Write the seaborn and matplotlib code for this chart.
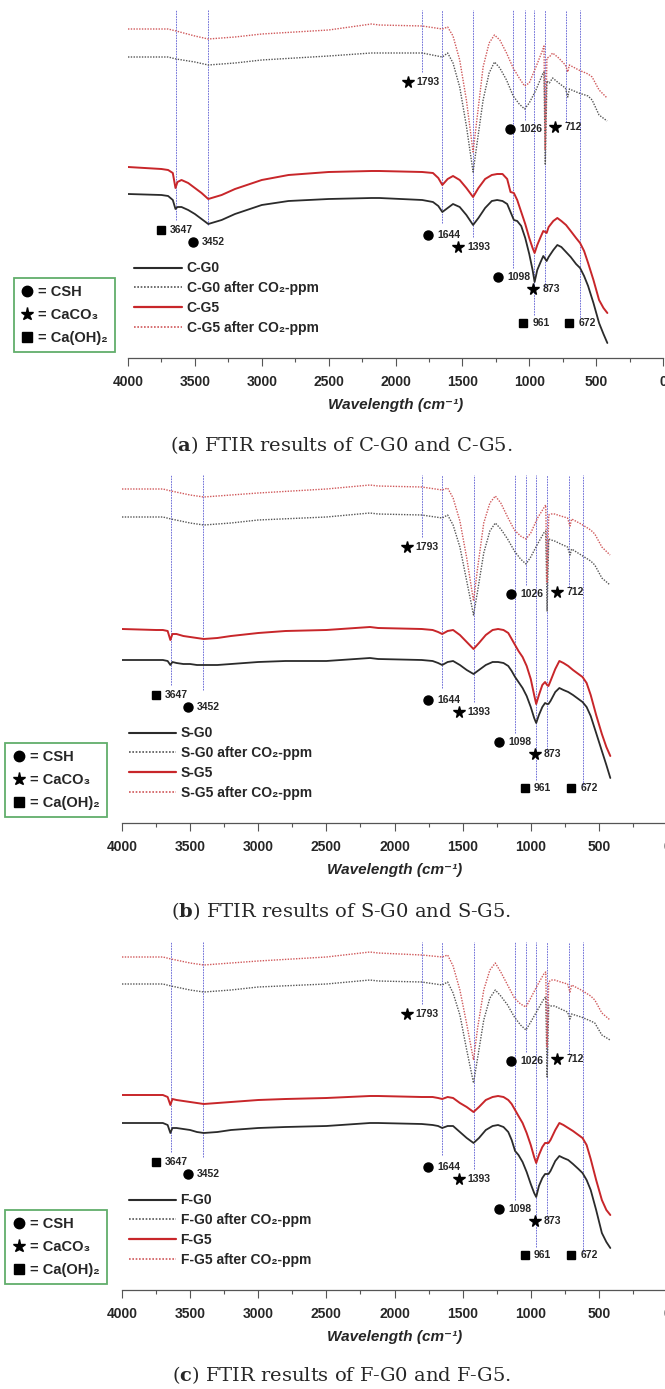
import matplotlib
matplotlib.use('Agg')
from matplotlib import pyplot as plt
from matplotlib.lines import Line2D
from matplotlib.ticker import MultipleLocator
import pandas as pd
import seaborn as sns

# ---- data: wavenumber grids (cm-1) and transmittance (a.u.) ----
WN_DOT = [4000, 3700, 3640, 3500, 3400, 3200, 3000, 2500, 2180, 2120,
          1800, 1650, 1610, 1570, 1520, 1470, 1420, 1390, 1345, 1300,
          1260, 1220, 1170, 1120, 1075, 1035, 1000, 950, 900, 890,
          880, 868, 850, 825, 780, 730, 712, 700, 630, 560,
          530, 478, 418]
WN_SOLID = [4000, 3750, 3700, 3665, 3645, 3630, 3600, 3550, 3500, 3450,
            3400, 3300, 3200, 3000, 2800, 2500, 2180, 2120, 1800, 1720,
            1680, 1650, 1610, 1570, 1520, 1470, 1420, 1380, 1330, 1280,
            1240, 1200, 1165, 1140, 1115, 1090, 1060, 1030, 1000, 975,
            960, 940, 915, 895, 880, 870, 855, 820, 790, 760,
            725, 690, 650, 620, 590, 560, 520, 478, 445, 416]

# panel (a) C-G0 / C-G5
C_G5_CO2 = [329, 329, 327, 322, 319, 321, 324, 328, 334, 333,
            332, 329, 331, 322, 298, 258, 206, 240, 291, 315,
            323, 318, 305, 290, 280, 272, 275, 291, 308, 312,
            208, 300, 301, 305, 300, 293, 286, 293, 288, 284,
            281, 268, 260]
C_G0_CO2 = [301, 301, 299, 296, 293, 295, 298, 302, 305, 305,
            305, 301, 305, 295, 271, 232, 186, 215, 258, 285,
            296, 290, 278, 262, 254, 249, 255, 268, 284, 286,
            193, 277, 275, 280, 275, 270, 261, 269, 265, 262,
            258, 243, 237]
C_G5 = [191, 189, 188, 185, 170, 176, 178, 175, 170, 165,
        159, 163, 169, 178, 183, 186, 187, 187, 186, 185,
        180, 173, 179, 182, 178, 170, 161, 170, 179, 183,
        184, 184, 179, 166, 165, 158, 146, 134, 120, 110,
        105, 113, 121, 127, 126, 125, 131, 137, 140, 137,
        133, 127, 120, 115, 107, 95, 78, 58, 50, 45]
C_G0 = [164, 163, 162, 158, 149, 151, 151, 148, 144, 139,
        134, 138, 144, 153, 157, 159, 160, 160, 158, 156,
        152, 146, 150, 154, 151, 143, 133, 140, 150, 157,
        158, 157, 154, 146, 138, 137, 132, 120, 104, 88,
        76, 88, 96, 102, 99, 97, 101, 108, 113, 111,
        106, 101, 94, 90, 82, 72, 55, 35, 24, 15]

# panel (b) S-G0 / S-G5
S_G5_CO2 = [334, 334, 332, 328, 326, 328, 330, 334, 338, 337,
            336, 333, 335, 325, 302, 265, 222, 255, 300, 320,
            327, 320, 306, 293, 287, 284, 290, 305, 316, 318,
            240, 308, 309, 309, 307, 305, 297, 304, 299, 293,
            289, 276, 268]
S_G0_CO2 = [306, 306, 304, 300, 298, 300, 303, 306, 310, 309,
            308, 305, 308, 298, 276, 242, 208, 232, 270, 292,
            300, 294, 284, 272, 264, 259, 266, 279, 291, 292,
            212, 284, 283, 282, 279, 276, 268, 274, 268, 262,
            258, 245, 238]
S_G5 = [194, 193, 193, 192, 183, 189, 189, 187, 186, 185,
        184, 185, 187, 190, 192, 193, 196, 195, 194, 193,
        191, 189, 192, 193, 188, 181, 174, 180, 188, 193,
        194, 193, 190, 184, 178, 172, 166, 157, 144, 128,
        119, 128, 138, 141, 138, 137, 142, 154, 162, 160,
        157, 153, 149, 146, 140, 128, 108, 89, 76, 67]
S_G0 = [163, 163, 163, 162, 158, 161, 160, 159, 159, 158,
        158, 158, 159, 161, 162, 162, 165, 164, 163, 162,
        160, 158, 161, 162, 158, 153, 149, 153, 158, 161,
        161, 160, 157, 152, 146, 141, 135, 127, 116, 105,
        100, 108, 116, 120, 119, 119, 122, 131, 135, 133,
        131, 128, 124, 121, 116, 107, 90, 72, 58, 45]

# panel (c) F-G0 / F-G5
F_G5_CO2 = [333, 333, 331, 327, 325, 327, 329, 333, 338, 337,
            335, 333, 335, 324, 300, 266, 230, 262, 300, 320,
            327, 318, 305, 292, 286, 283, 292, 305, 317, 318,
            243, 308, 310, 310, 308, 306, 298, 305, 300, 294,
            290, 277, 270]
F_G0_CO2 = [306, 306, 304, 300, 298, 300, 303, 306, 310, 309,
            308, 305, 308, 297, 275, 240, 207, 232, 270, 292,
            300, 294, 285, 273, 265, 260, 268, 280, 292, 293,
            213, 285, 284, 284, 281, 278, 271, 276, 273, 269,
            267, 255, 250]
F_G5 = [195, 195, 195, 193, 185, 191, 190, 189, 188, 187,
        186, 187, 188, 190, 191, 192, 194, 194, 193, 193,
        192, 191, 193, 192, 187, 183, 178, 183, 190, 193,
        194, 193, 190, 186, 180, 174, 167, 157, 145, 133,
        127, 135, 143, 147, 147, 147, 150, 160, 167, 165,
        162, 159, 155, 152, 145, 131, 110, 90, 80, 75]
F_G0 = [167, 167, 167, 165, 157, 162, 162, 161, 160, 158,
        157, 158, 160, 162, 163, 164, 167, 167, 166, 165,
        164, 162, 164, 164, 158, 152, 147, 152, 160, 164,
        165, 163, 158, 150, 139, 135, 128, 118, 106, 97,
        93, 104, 112, 116, 116, 116, 119, 129, 134, 132,
        130, 126, 121, 117, 110, 100, 80, 57, 48, 42]

# assigned bands
BAND_POS = [3642, 3405, 1800, 1652, 1420, 1119, 1035, 963, 883, 722, 619]
BAND_END = [138, 133, 286, 135, 121, 90, 238, 43, 71, 236, 38]
PEAK_LABELS = ['3647', '3452', '1644', '1393', '1098', '873', '961', '672', '1793',
               '1026', '712']
PEAK_PHASE = ['CH', 'CSH', 'CSH', 'CC', 'CSH', 'CC', 'CH', 'CH', 'CC', 'CSH', 'CC']

PHASES = ['CSH', 'CC', 'CH']
PHASE_NAMES = ['= CSH', '= CaCO\u2083', '= Ca(OH)\u2082']
CAPTIONS = ['a', 'b', 'c']
CAPTION_TEXT = ['FTIR results of C-G0 and C-G5.', 'FTIR results of S-G0 and S-G5.',
                'FTIR results of F-G0 and F-G5.']

# ---- layout ----
MARKERS = {'CSH': ('o', 6.5), 'CC': ('*', 8.5), 'CH': ('s', 6)}
LABEL_XY = [(3754, 128), (3515, 116), (1754, 123), (1530, 111), (1231, 81), (970, 69),
            (1045, 35), (701, 35), (1910, 276), (1142, 229), (806, 231)]

sns.set_style('white')
plt.rcParams['font.family'] = ['Liberation Sans', 'DejaVu Sans']
plt.rcParams['font.weight'] = 'bold'
plt.rcParams['mathtext.fontset'] = 'dejavuserif'

W, H = 665, 1389
fig = plt.figure(figsize=(W / 100, H / 100), dpi=100)

# axes boxes in pixels: (x of 4000, x of 0, axis y)
boxes = [(128, 663, 358), (122, 667, 823), (122, 667, 1290)]
YTOP = 350
caption_y = [445, 911, 1375]

panels = [('C', C_G0, C_G0_CO2, C_G5, C_G5_CO2),
          ('S', S_G0, S_G0_CO2, S_G5, S_G5_CO2),
          ('F', F_G0, F_G0_CO2, F_G5, F_G5_CO2)]

for i, (name, g0, g0c, g5, g5c) in enumerate(panels):
    x0, x1, yax = boxes[i]
    ax = fig.add_axes([x0 / W, (H - yax) / H, (x1 - x0) / W, YTOP / H])

    labels = [f'{name}-G0', f'{name}-G0 after CO\u2082-ppm', f'{name}-G5',
              f'{name}-G5 after CO\u2082-ppm']
    series = [(WN_SOLID, g0, labels[0], '#2b2b2b', '-', 1.3),
              (WN_DOT, g0c, labels[1], '#555555', (0, (1, 1)), 1.0),
              (WN_SOLID, g5, labels[2], '#c8262a', '-', 1.4),
              (WN_DOT, g5c, labels[3], '#d0585a', (0, (1, 1)), 1.0)]

    # band markers
    for pos, end in zip(BAND_POS, BAND_END):
        ax.vlines(pos, end, YTOP - 2, color='#5a5ad2', lw=0.6,
                  linestyles=(0, (2, 1.2)), zorder=1)

    handles = []
    for wn, vals, lab, col, ls, lw in series:
        df = pd.DataFrame({'wn': wn, 'trans': vals})
        sns.lineplot(data=df, x='wn', y='trans', sort=False, estimator=None,
                     color=col, lw=lw, ax=ax, zorder=2)
        ax.lines[-1].set_linestyle(ls)
        ax.lines[-1].set_solid_joinstyle('round')
        handles.append(Line2D([], [], color=col, lw=lw + 0.2, ls=ls))

    # peak labels
    for (lx, ly), txt, ph in zip(LABEL_XY, PEAK_LABELS, PEAK_PHASE):
        m, ms = MARKERS[ph]
        ax.plot(lx, ly, marker=m, ms=ms, color='black', ls='none', zorder=3)
        ax.annotate(txt, (lx, ly), xytext=(6.5, 0), textcoords='offset points',
                    va='center', ha='left', fontsize=7.5, fontweight='bold')

    ax.set_xlim(4000, 0)
    ax.set_ylim(0, YTOP)
    ax.set_yticks([])
    ax.set_ylabel('')
    ax.xaxis.set_major_locator(MultipleLocator(500))
    ax.xaxis.set_minor_locator(MultipleLocator(250))
    ax.tick_params(axis='x', which='major', direction='out', length=6, width=0.8,
                   color='#555555', pad=6.5, labelsize=10, bottom=True)
    ax.tick_params(axis='x', which='minor', direction='out', length=3.2, width=0.8,
                   color='#555555', bottom=True)
    for lab in ax.get_xticklabels():
        lab.set_fontweight('bold')
    ax.set_xlabel('Wavelength (cm\u207b\u00b9)', fontsize=11, fontweight='bold',
                  fontstyle='italic', labelpad=6)
    sns.despine(ax=ax, left=True, top=True, right=True)
    ax.spines['bottom'].set_color('#555555')
    ax.spines['bottom'].set_linewidth(0.9)

    leg1 = ax.legend(handles, labels, loc='upper left', bbox_to_anchor=(0.012, 0.276),
                     borderaxespad=0, borderpad=0, frameon=False, handlelength=3.4,
                     handletextpad=0.35, labelspacing=0.42,
                     prop={'size': 10, 'weight': 'bold'})
    ax.add_artist(leg1)

    phase_handles = [Line2D([], [], marker=MARKERS[p][0], ms=MARKERS[p][1] + 1,
                            color='black', ls='none') for p in PHASES]
    leg2 = ax.legend(phase_handles, PHASE_NAMES, loc='upper left',
                     bbox_to_anchor=(-0.214, 0.228), borderaxespad=0, borderpad=0.5,
                     frameon=True, fancybox=False, handlelength=0.9, handletextpad=0.3,
                     labelspacing=0.6, prop={'size': 10.5, 'weight': 'bold'})
    leg2.get_frame().set_edgecolor('#3a9a46')
    leg2.get_frame().set_linewidth(1.3)
    leg2.set_clip_on(False)

    fig.text(0.513, 1 - caption_y[i] / H,
             f'($\\mathbf{{{CAPTIONS[i]}}}$) {CAPTION_TEXT[i]}',
             ha='center', va='center', fontsize=14, family='DejaVu Serif',
             fontweight='normal')

fig.savefig('out.png', dpi=100)
